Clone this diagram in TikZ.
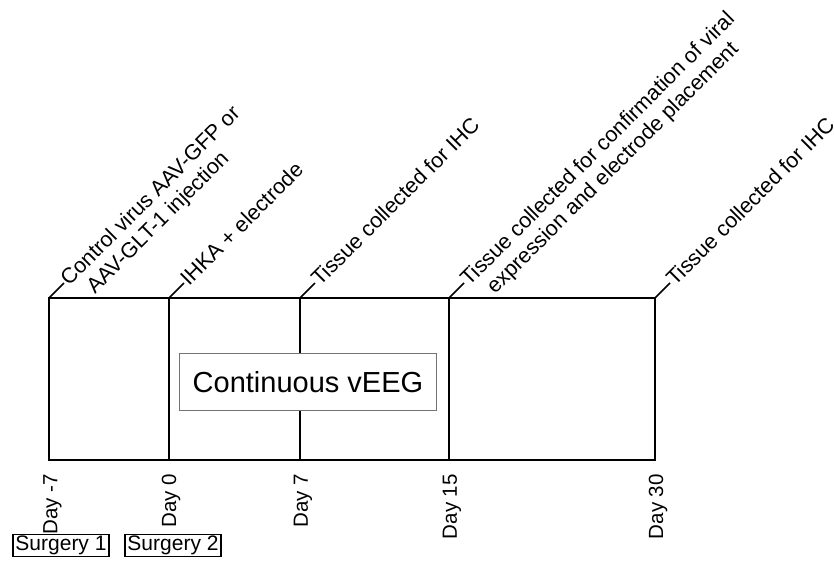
\documentclass[tikz,border=0pt]{standalone}
\usepackage{fontspec}
\setmainfont{Liberation Sans}
\newcommand{\labfont}{\fontsize{21.5}{25}\selectfont}
\newcommand{\dayfont}{\fontsize{20.5}{24}\selectfont}
\begin{document}
\begin{tikzpicture}[x=1pt,y=-1pt,
  tl/.style={line width=1.8pt,line cap=rect},
  tick/.style={line width=1.5pt},
  lab/.style={rotate=45,anchor=base west,inner sep=0pt,font=\labfont},
  day/.style={rotate=90,anchor=east,inner sep=0pt,font=\dayfont},
  surg/.style={draw,line width=1.6pt,inner xsep=2.5pt,inner ysep=1.5pt,font=\fontsize{21}{24}\selectfont},
  veeg/.style={draw=black!55,fill=white,line width=1.8pt,minimum width=257pt,minimum height=57pt,inner sep=0pt,font=\fontsize{29}{32}\selectfont}]
\useasboundingbox (0,0) rectangle (834,560);
% time points
\coordinate (t1) at (49,298);  \coordinate (b1) at (49,460);
\coordinate (t2) at (169,298); \coordinate (b2) at (169,460);
\coordinate (t3) at (300,298); \coordinate (b3) at (300,460);
\coordinate (t4) at (449,298); \coordinate (b4) at (449,460);
\coordinate (t5) at (655,298); \coordinate (b5) at (655,460);
% frame
\draw[tl] (t1) -- (t5) -- (b5) -- (b1) -- cycle;
\draw[tl] (t2) -- (b2);
\draw[tl] (t3) -- (b3);
\draw[tl] (t4) -- (b4);
% ticks
\foreach \i in {1,...,5}{\draw[tick] (t\i) -- ++(15,-15) coordinate (k\i);}
% top labels
\node[lab] (L1) at ([shift={(5,4)}]k1) {Control virus AAV-GFP or};
\node[lab] (L1b) at ([shift={(26,7.8)}]L1.base west) {AAV-GLT-1 injection};
\node[lab] (L2) at ([shift={(5,4)}]k2) {IHKA + electrode};
\node[lab] (L3) at ([shift={(5,4)}]k3) {Tissue collected for IHC};
\node[lab] (L4) at ([shift={(5,4)}]k4) {Tissue collected for confirmation of viral};
\node[lab] (L4b) at ([shift={(26,7.8)}]L4.base west) {expression and electrode placement};
\node[lab] (L5) at ([shift={(5,4)}]k5) {Tissue collected for IHC};
% continuous vEEG
\node[veeg] (V) at (308,382) {Continuous vEEG};
% day labels
\node[day] (D1) at ([xshift=3.5pt,yshift=-14pt]b1) {Day -7};
\node[day] (D2) at ([xshift=2pt,yshift=-14pt]b2) {Day 0};
\node[day] (D3) at ([xshift=3pt,yshift=-14pt]b3) {Day 7};
\node[day] (D4) at ([xshift=3pt,yshift=-14pt]b4) {Day 15};
\node[day] (D5) at ([xshift=3pt,yshift=-14pt]b5) {Day 30};
% surgeries
\node[surg] (S1) at (61,545.5) {Surgery 1};
\node[surg] (S2) at (173,545.5) {Surgery 2};
\end{tikzpicture}
\end{document}
